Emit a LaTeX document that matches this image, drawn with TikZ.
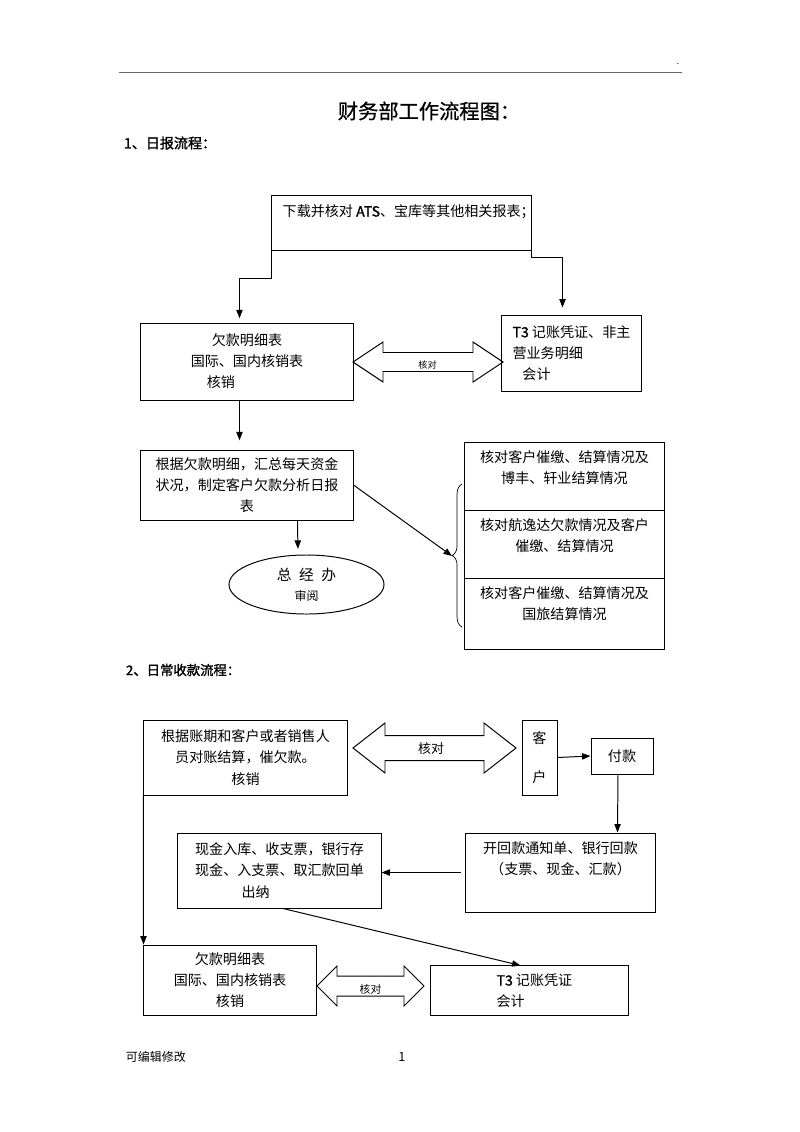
\documentclass[tikz,border=0pt]{standalone}
\usepackage{fontspec}
\setmainfont{Noto Sans CJK SC}
\newfontfamily\secfont[FakeBold=1.5]{Noto Sans CJK SC}
\newfontfamily\titlefont[FakeBold=0.8]{Noto Sans CJK SC}
\usetikzlibrary{shapes.geometric,arrows.meta,positioning,calc,decorations.pathreplacing}

% hollow double arrow: left tip x, right tip x, y, head half, body half, head length
\newcommand{\chkarrow}[6]{%
  \draw[line width=0.7pt] (#1,#3) -- ({#1+#6},{#3-#4}) -- ({#1+#6},{#3-#5}) -- ({#2-#6},{#3-#5})
    -- ({#2-#6},{#3-#4}) -- (#2,#3) -- ({#2-#6},{#3+#4}) -- ({#2-#6},{#3+#5})
    -- ({#1+#6},{#3+#5}) -- ({#1+#6},{#3+#4}) -- cycle;}

\begin{document}
\begin{tikzpicture}[x=0.025cm, y=-0.025cm,
    box/.style={draw, line width=0.7pt, align=center, inner sep=0pt, font=\fontsize{10}{15}\selectfont},
    txt/.style={align=center, inner sep=0pt, font=\fontsize{10}{15}\selectfont},
    arrow/.style={-{Triangle[length=6pt,width=4.5pt]}, line width=0.7pt}
]
    \useasboundingbox (0,0) rectangle (800,1132);

    % Page head
    \draw[gray!80!black, line width=0.7pt] (119,72) -- (682,72);
    \node[font=\fontsize{6}{6}\selectfont] (dot) at (678,64) {.};
    \node[font=\titlefont\fontsize{14.4}{17}\selectfont] (title) at (429,111) {财务部工作流程图：};
    \node[anchor=west, font=\secfont\fontsize{10}{12}\selectfont] (sec1) at (119,143) {1、日报流程：};

    % 1: daily report
    \node[box, minimum width=6.475cm, minimum height=1.375cm] (dl) at (401.5,222.5) {};
    \node[txt, below right=7pt and 7.8pt of dl.north west] (dltxt) {下载并核对 {\secfont ATS}、宝库等其他相关报表；};
    \node[box, minimum width=5.3cm, minimum height=1.925cm] (debt1) at (247,361.5)
        {欠款明细表\\国际、国内核销表\\核销\hspace*{3.7em}};
    \node[box, minimum width=3.475cm, minimum height=1.9cm, align=left] (t31) at (571.5,353)
        {{\secfont T3} 记账凭证、非主\\营业务明细\\\hspace*{0.7em}会计};
    \chkarrow{353}{503}{362}{20}{9.5}{30}
    \node[font=\fontsize{6.5}{8}\selectfont] (chk1) at (427.5,365) {核对};

    \draw[arrow, shorten >=3pt] (dl.south west) -- ++(0,28) -| ($(debt1.north west)+(99,0)$);
    \draw[arrow, shorten >=5pt] (dl.south east) -- ++(0,7) -| ($(t31.north west)+(61,0)$);

    \node[box, minimum width=5.3cm, minimum height=1.75cm] (sum) at (247,485)
        {根据欠款明细，汇总每天资金\\状况，制定客户欠款分析日报\\表};
    \draw[arrow, shorten >=6.5pt] ($(debt1.south west)+(99,0)$) -- ($(sum.north west)+(99,0)$);

    \node[draw, ellipse, line width=0.7pt, minimum width=3.875cm, minimum height=1.475cm, inner sep=0pt,
        align=center, font=\fontsize{10.5}{14.2}\selectfont] (boss) at (306.5,584.5)
        {总\hspace{0.5em}经\hspace{0.5em}办\\{\fontsize{8.5}{10}\selectfont 审阅}};
    \draw[arrow, shorten >=4pt] ($(sum.south west)+(157,0)$) -- ($(boss.north)+(-8.5,0)$);

    % check list
    \node[box, minimum width=4.975cm, minimum height=1.7cm] (c1) at (564.5,476) {};
    \node[box, minimum width=4.975cm, minimum height=1.7cm] (c2) at (564.5,544) {};
    \node[box, minimum width=4.975cm, minimum height=1.775cm] (c3) at (564.5,613.5) {};
    \node[txt, below=6pt of c1.north] (c1txt) {核对客户催缴、结算情况及\\博丰、轩业结算情况};
    \node[txt, below=6pt of c2.north] (c2txt) {核对航逸达欠款情况及客户\\催缴、结算情况};
    \node[txt, below=6pt of c3.north] (c3txt) {核对客户催缴、结算情况及\\国旅结算情况};
    \draw[decorate, decoration={brace, amplitude=7pt}, line width=0.5pt] (462,627) -- (462,484);
    \coordinate (bt) at (452,556);
    \draw[arrow] (sum.east) -- (bt);

    % 2: daily collection
    \node[anchor=west, font=\secfont\fontsize{9.5}{12}\selectfont] (sec2) at (121,670) {2、日常收款流程：};

    \node[box, minimum width=5.075cm, minimum height=1.875cm] (recon) at (245.5,757.5)
        {根据账期和客户或者销售人\\员对账结算，催欠款。\hspace*{1.2em}\\核销};
    \chkarrow{353}{516}{748}{25}{12.5}{32}
    \node[font=\fontsize{9.2}{11}\selectfont] (chk2) at (431,749) {核对};

    \node[box, minimum width=0.875cm, minimum height=1.875cm] (cust) at (539.5,757.5) {客\\[12.8pt]户};
    \node[box, minimum width=1.55cm, minimum height=0.9cm] (pay) at (622,756) {付款};
    \draw[arrow] (cust.east) -- (pay.west);

    \node[box, minimum width=4.725cm, minimum height=1.975cm] (notice) at (560.5,872.5) {};
    \node[txt, below=6pt of notice.north] (noticetxt) {开回款通知单、银行回款\\（支票、现金、汇款）};
    \draw[arrow] ($(pay.south)+(-4,0)$) -- ($(notice.north west)+(152,0)$);

    \node[box, minimum width=5.075cm, minimum height=1.875cm] (cash) at (279.5,870.5)
        {现金入库、收支票，银行存\\现金、入支票、取汇款回单\\出纳\hspace*{3.4em}};
    \draw[arrow, shorten <=3.5pt] (notice.west) -- (notice.west -| cash.east);

    \node[box, minimum width=4.3cm, minimum height=1.76cm] (debt2) at (230,980.25)
        {欠款明细表\\国际、国内核销表\\核销};
    \draw[arrow] (recon.south west) -- (debt2.north west);

    \node[box, minimum width=4.925cm, minimum height=1.24cm, align=left] (t32) at (529.5,990.75)
        {\hspace*{0.7em}{\secfont T3} 记账凭证\\\hspace*{0.7em}会计};
    \draw[arrow] ($(cash.south)+(3.5,0)$) -- ($(t32.north west)+(90,0)$);
    \chkarrow{317}{424}{986}{20}{10}{20}
    \node[font=\fontsize{7.7}{9}\selectfont] (chk3) at (370.5,989) {核对};

    % Page foot
    \node[anchor=west, font=\fontsize{8.5}{10}\selectfont] (foot) at (121,1057) {可编辑修改};
    \node[font=\fontsize{9}{10}\selectfont] (pgno) at (402,1057) {1};
\end{tikzpicture}
\end{document}
